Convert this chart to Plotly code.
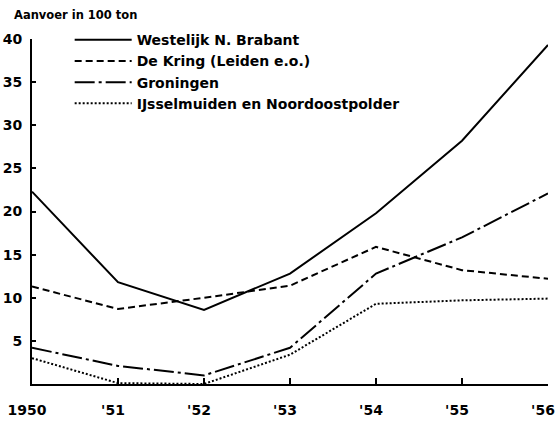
import plotly.graph_objects as go

years = [1950, 1951, 1952, 1953, 1954, 1955, 1956]
tick_labels = ["1950", "'51", "'52", "'53", "'54", "'55", "'56"]
y_ticks = [5, 10, 15, 20, 25, 30, 35, 40]

westelijk = [22.3, 11.8, 8.6, 12.8, 19.8, 28.2, 39.3]
de_kring = [11.3, 8.7, 10.0, 11.4, 15.9, 13.2, 12.2]
groningen = [4.2, 2.1, 1.0, 4.2, 12.8, 17.0, 22.1]
ijsselmuiden = [3.0, 0.1, 0.0, 3.4, 9.3, 9.7, 9.9]

names = ["Westelijk N. Brabant", "De Kring (Leiden e.o.)", "Groningen",
         "IJsselmuiden en Noordoostpolder"]
series = [westelijk, de_kring, groningen, ijsselmuiden]
dashes = ["solid", "7px,4px", "20px,4px,3px,4px", "2px,2px"]

FONT = "DejaVu Sans"

fig = go.Figure()
for n, s, d in zip(names, series, dashes):
    fig.add_trace(go.Scatter(
        x=years, y=s, name=n, mode="lines",
        line=dict(color="black", width=2, dash=d),
    ))

fig.update_layout(
    width=557, height=421,
    margin=dict(l=32, r=9, t=39, b=37),
    paper_bgcolor="white", plot_bgcolor="white",
    font=dict(family=FONT, color="black", size=14, weight="bold"),
    showlegend=True,
    legend=dict(
        x=0.073, y=1.043, xanchor="left", yanchor="top",
        bgcolor="rgba(0,0,0,0)", itemwidth=57,
        font=dict(family=FONT, size=14, weight="bold"),
        tracegroupgap=0,
    ),
    xaxis=dict(
        range=[1950, 1956], tickvals=years, ticktext=tick_labels,
        showgrid=False, zeroline=False, showline=True, linecolor="black",
        linewidth=2, ticks="inside", ticklen=6, tickwidth=2, tickcolor="black",
        tickfont=dict(size=14, weight="bold"), ticklabelstandoff=12,
        ticklabelshift=-5, ticklabeloverflow="allow", automargin=False,
    ),
    yaxis=dict(
        range=[0, 40], tickvals=y_ticks,
        showgrid=False, zeroline=False, showline=True, linecolor="black",
        linewidth=2, ticks="inside", ticklen=4, tickwidth=2, tickcolor="black",
        tickfont=dict(size=14, weight="bold"), ticklabelstandoff=5,
        automargin=False,
    ),
    annotations=[dict(
        text="Aanvoer in 100 ton", xref="paper", yref="paper",
        x=-0.039, y=1.0, xanchor="left", yanchor="middle", yshift=24,
        showarrow=False, font=dict(family=FONT, size=11.5, weight="bold"),
    )],
)

fig.write_html("out.html", config={"displayModeBar": False},
               post_script="document.body.style.margin='0';")
